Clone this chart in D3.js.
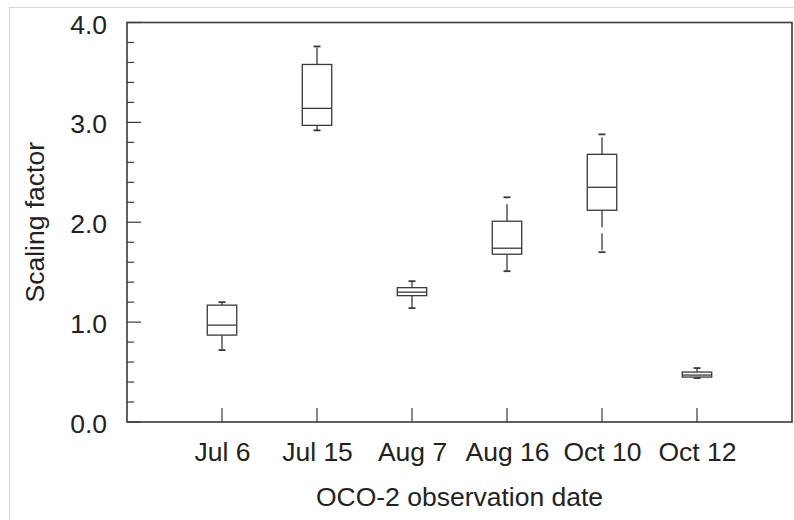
<!DOCTYPE html>
<html>
<head>
<meta charset="utf-8">
<script src="https://cdn.jsdelivr.net/npm/d3@7"></script>
<style>
  html, body { margin: 0; padding: 0; background: #fff; }
  svg { display: block; }
  text { font-family: "Liberation Sans", Arial, Helvetica, sans-serif; fill: #222; }
</style>
</head>
<body>
<svg id="chart" width="794" height="520"></svg>
<script>
// Scaling factor per OCO-2 overpass: box-and-whisker summaries
const categories  = ["Jul 6", "Jul 15", "Aug 7", "Aug 16", "Oct 10", "Oct 12"];
const whiskerLow  = [0.72, 2.92, 1.14, 1.51, 1.70, 0.44];
const q1          = [0.87, 2.97, 1.265, 1.68, 2.12, 0.45];
const medians     = [0.97, 3.14, 1.30, 1.74, 2.35, 0.47];
const q3          = [1.17, 3.58, 1.345, 2.01, 2.68, 0.50];
const whiskerHigh = [1.20, 3.76, 1.41, 2.25, 2.88, 0.54];
const yTicks      = [0, 1, 2, 3, 4];
const yMinorTicks = d3.range(0, 4.0001, 0.2);

const boxes = categories.map((c, i) => ({
  cat: c, pos: i + 1,
  lo: whiskerLow[i], q1: q1[i], med: medians[i], q3: q3[i], hi: whiskerHigh[i]
}));

const svg = d3.select("#chart");
const ink = "#3a3a3a";

// light outer border around the figure
svg.append("rect")
  .attr("x", 9.5).attr("y", 7.5).attr("width", 800).attr("height", 520)
  .attr("fill", "none").attr("stroke", "#d8d8d8").attr("stroke-width", 1);

const plotL = 127, plotR = 792, plotT = 22.5, plotB = 422;
const x = d3.scaleLinear().domain([0, categories.length + 1]).range([plotL, plotR]);
const y = d3.scaleLinear().domain([0, 4]).range([plotB, plotT]);

// y axis: labels and inward ticks
const yAxis = d3.axisLeft(y)
  .tickValues(yTicks)
  .tickFormat(d3.format(".1f"))
  .tickSize(0)
  .tickPadding(20);
const gy = svg.append("g").attr("transform", `translate(${plotL},0)`).call(yAxis);
gy.select(".domain").remove();
gy.selectAll("text")
  .attr("font-size", 26.5)
  .attr("dy", "0.4em")
  .attr("fill", "#222")
  .style("font-family", "'Liberation Sans', Arial, sans-serif");

svg.append("g").selectAll("line.minor")
  .data(yMinorTicks)
  .join("line")
  .attr("x1", plotL)
  .attr("x2", d => plotL + (Math.abs(d - Math.round(d)) < 1e-6 ? 14 : 7))
  .attr("y1", d => y(d)).attr("y2", d => y(d))
  .attr("stroke", ink).attr("stroke-width", 1.2);

// x axis: category labels and inward ticks
const xAxis = d3.axisBottom(x)
  .tickValues(boxes.map(b => b.pos))
  .tickFormat(d => categories[d - 1])
  .tickSize(0)
  .tickPadding(0);
const gx = svg.append("g").attr("transform", `translate(0,${plotB})`).call(xAxis);
gx.select(".domain").remove();
gx.selectAll("text")
  .attr("y", 39)
  .attr("dy", 0)
  .attr("font-size", 26.5)
  .attr("fill", "#222")
  .style("font-family", "'Liberation Sans', Arial, sans-serif");

svg.append("g").selectAll("line")
  .data(boxes)
  .join("line")
  .attr("x1", d => x(d.pos)).attr("x2", d => x(d.pos))
  .attr("y1", plotB).attr("y2", plotB - 14)
  .attr("stroke", ink).attr("stroke-width", 1.2);

// plot frame
svg.append("rect")
  .attr("x", plotL).attr("y", plotT)
  .attr("width", plotR - plotL).attr("height", plotB - plotT)
  .attr("fill", "none").attr("stroke", ink).attr("stroke-width", 1.6);

// axis titles
svg.append("text")
  .attr("x", (plotL + plotR) / 2).attr("y", 506)
  .attr("text-anchor", "middle").attr("font-size", 26.5)
  .text("OCO-2 observation date");

svg.append("text")
  .attr("transform", `translate(44,${(plotT + plotB) / 2}) rotate(-90)`)
  .attr("text-anchor", "middle").attr("font-size", 26.5)
  .text("Scaling factor");

// boxes
const boxW = (x(1) - x(0)) * 0.31;
const capHalf = 3.5;
const g = svg.append("g").attr("stroke", ink).attr("stroke-width", 1.3).attr("fill", "none");

const item = g.selectAll("g.box").data(boxes).join("g").attr("class", "box");

// dashed whiskers, drawn outward from the box edges
item.append("line")
  .attr("x1", d => x(d.pos)).attr("x2", d => x(d.pos))
  .attr("y1", d => y(d.q3)).attr("y2", d => y(d.hi))
  .attr("stroke-dasharray", "17,6");
item.append("line")
  .attr("x1", d => x(d.pos)).attr("x2", d => x(d.pos))
  .attr("y1", d => y(d.q1)).attr("y2", d => y(d.lo))
  .attr("stroke-dasharray", "17,6");

// whisker caps
item.append("line")
  .attr("x1", d => x(d.pos) - capHalf).attr("x2", d => x(d.pos) + capHalf)
  .attr("y1", d => y(d.hi)).attr("y2", d => y(d.hi))
  .attr("stroke-width", 1.8);
item.append("line")
  .attr("x1", d => x(d.pos) - capHalf).attr("x2", d => x(d.pos) + capHalf)
  .attr("y1", d => y(d.lo)).attr("y2", d => y(d.lo))
  .attr("stroke-width", 1.8);

// interquartile box
item.append("rect")
  .attr("x", d => x(d.pos) - boxW / 2)
  .attr("y", d => y(d.q3))
  .attr("width", boxW)
  .attr("height", d => y(d.q1) - y(d.q3))
  .attr("fill", "#fff");

// median
item.append("line")
  .attr("x1", d => x(d.pos) - boxW / 2).attr("x2", d => x(d.pos) + boxW / 2)
  .attr("y1", d => y(d.med)).attr("y2", d => y(d.med));
</script>
</body>
</html>
